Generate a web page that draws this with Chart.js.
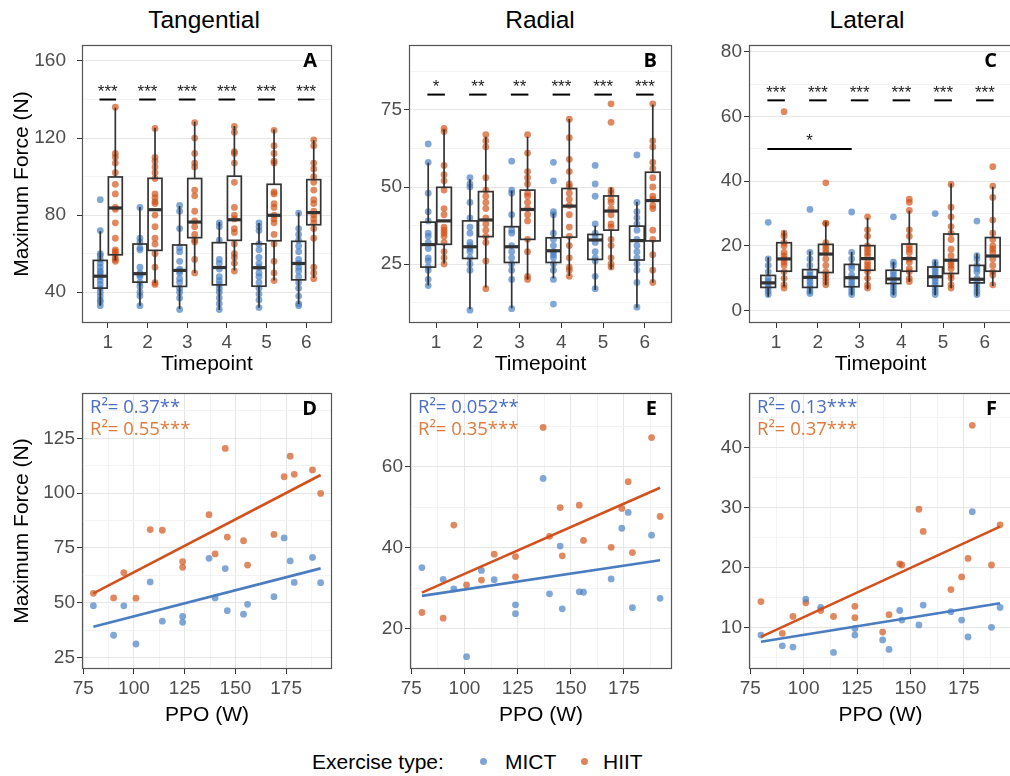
<!DOCTYPE html>
<html>
<head>
<meta charset="utf-8">
<script src="https://cdn.jsdelivr.net/npm/chart.js@4.4.0/dist/chart.umd.min.js"></script>
<style>
html, body { margin: 0; padding: 0; overflow: hidden; background: #fff; }
body { width: 1010px; height: 776px; position: relative; font-family: "Liberation Sans", Arial, sans-serif; }
canvas { position: absolute; }
.title { position: absolute; top: 8px; font-size: 24.5px; line-height: 24px; color: #000; transform: translateX(-50%); white-space: nowrap; }
#legend { position: absolute; top: 751px; left: 0; width: 1010px; height: 21px; font-size: 21px; line-height: 21px; color: #000; }
#legend span { position: absolute; white-space: nowrap; }
#legend .dot { width: 7px; height: 7px; border-radius: 50%; top: 7px; }
</style>
</head>
<body>
<div class="title" style="left:204px">Tangential</div>
<div class="title" style="left:540px">Radial</div>
<div class="title" style="left:867px">Lateral</div>

<canvas id="cA" width="340" height="337" style="left:0;top:40px"></canvas>
<canvas id="cB" width="340" height="337" style="left:340px;top:40px"></canvas>
<canvas id="cC" width="345" height="337" style="left:680px;top:40px"></canvas>
<canvas id="cD" width="340" height="340" style="left:0;top:388px"></canvas>
<canvas id="cE" width="340" height="340" style="left:340px;top:388px"></canvas>
<canvas id="cF" width="345" height="340" style="left:680px;top:388px"></canvas>

<div id="legend">
  <span style="left:312px">Exercise type:</span>
  <span class="dot" style="left:480px;background:rgba(70,125,195,0.7)"></span>
  <span style="left:505px">MICT</span>
  <span class="dot" style="left:581px;background:rgba(210,80,20,0.7)"></span>
  <span style="left:603px">HIIT</span>
</div>

<script>
const timepoints = [1, 2, 3, 4, 5, 6];

// Maximum force per timepoint, one inner array per timepoint
const tangMict = [
  [88, 72, 60, 59, 57, 55, 53, 51, 50, 48, 46, 44, 42, 40, 38, 36, 35, 33],
  [84, 68, 66, 63, 62, 53, 50, 49, 48, 45, 43, 40, 38, 33],
  [85, 82, 73, 63, 61, 56, 52, 51, 50, 47, 45, 42, 40, 37, 31],
  [76, 74, 67, 57, 55, 52, 48, 46, 44, 42, 40, 37, 34, 31],
  [76, 74, 72, 65, 62, 58, 55, 53, 50, 48, 45, 42, 39, 36, 32],
  [81, 73, 70, 67, 64, 61, 57, 55, 53, 51, 48, 45, 42, 38, 34, 33]
];
const tangHiit = [
  [136, 112, 110, 107, 102, 96, 91, 84, 83, 76, 68, 62, 61, 60, 58, 57, 56],
  [125, 110, 108, 105, 102, 99, 91, 89, 87, 86, 80, 74, 68, 65, 60, 53, 45, 44],
  [128, 120, 112, 107, 105, 93, 90, 82, 77, 74, 70, 67, 66, 57, 50],
  [126, 123, 113, 112, 107, 97, 84, 80, 78, 73, 71, 65, 60, 58, 55, 51],
  [124, 116, 112, 108, 107, 92, 91, 86, 84, 80, 78, 76, 70, 65, 56, 50, 46],
  [119, 116, 107, 104, 100, 97, 93, 88, 86, 82, 80, 78, 76, 73, 68, 53, 50, 47]
];
const radMict = [
  [64, 58, 48, 42, 39, 35, 34, 32, 30, 27, 26, 24, 23, 20, 18],
  [53, 51, 50, 45, 40, 37, 35, 32, 31, 30, 29, 27, 25, 23, 10],
  [58.4, 49, 48, 41, 36, 35, 31, 29, 27, 25, 23, 20, 10.5],
  [58, 52, 42, 41, 35, 33, 31, 29, 28, 27, 25, 23, 20, 12],
  [57, 51, 47, 38, 35, 34, 32, 29, 27, 26, 21, 17],
  [60.4, 45, 42, 40, 38, 36, 33, 31, 29, 27, 25, 23, 19, 11]
];
const radHiit = [
  [69, 68, 57, 54, 52, 49, 43, 41, 37, 36, 35, 34, 32, 29, 27, 25],
  [67, 65, 63, 53, 49, 47, 45, 43, 40, 38, 36, 34, 32, 26, 17],
  [67, 61, 55, 53, 51, 48, 47, 45, 43, 41, 39, 33, 29, 21, 20],
  [72, 66, 59, 55, 51, 50, 48, 46, 44, 41, 37, 34, 31, 27, 24, 23, 21],
  [77, 71, 49, 48, 46, 45, 43, 41, 38, 37, 33, 31, 27, 25, 24],
  [77, 65, 63, 58, 56, 53, 50, 47, 46, 44, 43, 36, 33, 28, 23, 19]
];
const latMict = [
  [27.3, 16, 14, 12, 10, 9, 8, 7, 6, 5],
  [31.3, 18, 16, 14, 12, 11, 10, 9, 8, 7, 6, 5.3],
  [30.5, 18, 16, 14, 13, 11, 10, 9, 8, 7, 6, 5],
  [29, 15, 14, 12, 11, 10, 9, 8, 7, 6, 5],
  [30, 15, 14, 13, 12, 11, 10, 9, 8, 7, 6, 5],
  [27.7, 17, 16, 14, 13, 12, 10, 9, 8, 7, 6, 5]
];
const latHiit = [
  [61.5, 24, 23, 21, 20, 18, 17, 16, 15, 14, 12, 10, 8, 7],
  [39.5, 27, 27, 21, 20, 19, 18, 16, 14, 12, 11, 10, 9, 8],
  [29, 25, 23, 20, 19, 18, 17, 15, 14, 13, 12, 10, 8, 7],
  [34.5, 33.5, 31, 25, 23, 20, 19, 18, 16, 15, 13, 12, 10, 9],
  [39, 32, 29, 26, 24, 22, 19, 17, 15, 14, 13, 11, 10, 8, 7],
  [44.5, 38.5, 35, 28, 24, 22, 20, 19, 18, 16, 14, 12, 11, 8]
];

// box summaries: [lower whisker, q1, median, q3, upper whisker]
const tangMictBox = [[33, 42.1, 48.3, 56.5, 71.6], [33, 45.2, 49.6, 65, 84.2], [31.3, 43, 51.3, 64.5, 84.7],
  [30.8, 43.8, 52.8, 65.7, 76.4], [31.9, 43.1, 52.7, 65.1, 75.9], [33.9, 46.4, 54.9, 66.4, 81.4]];
const tangHiitBox = [[56.5, 59.4, 83.7, 99.8, 135.7], [44.7, 61.7, 82.8, 99.1, 125.3], [49.9, 68.3, 76.4, 99, 128.4],
  [51.3, 66.9, 77.6, 100.2, 126.2], [46, 66.7, 79.9, 96, 124.5], [47.3, 75, 81.3, 98.4, 118.9]];
const radMictBox = [[18, 24, 31.3, 38.6, 57.9], [10.3, 26.8, 30.6, 39, 52.5], [10.6, 25.5, 30.6, 37.1, 48.8],
  [20.3, 25.5, 29.3, 33.5, 41.4], [16.6, 26.5, 32.8, 34.6, 37.4], [10.8, 26.3, 32.6, 37.3, 45.2]];
const radHiitBox = [[25.2, 31.4, 39, 49.9, 68.7], [17.4, 33.9, 39.3, 48.5, 66.3], [20, 33, 42.7, 49, 66.3],
  [21.1, 33.7, 43.8, 49.5, 72.1], [23.3, 36, 42.2, 47.1, 49.8], [18.9, 32.5, 45.6, 54.8, 76.8]];
const latMictBox = [[4.3, 7.2, 8.6, 10.9, 16.5], [5.3, 7.2, 10.3, 12.7, 18.4], [4.8, 7.4, 10.2, 14.3, 18.1],
  [4.8, 8.4, 9.8, 12.5, 15.1], [4.8, 7.6, 10.5, 13.5, 15.6], [4.5, 8.6, 9.7, 14, 17.7]];
const latHiitBox = [[7.4, 12.2, 16, 21, 24.7], [7.9, 11.8, 17.5, 20.5, 27.5], [6.6, 12.5, 16.1, 20.1, 28.7],
  [8.9, 12.2, 16.1, 20.6, 30.9], [6.9, 11.5, 15.6, 23.7, 39.3], [7.6, 12.2, 16.9, 22.6, 38.3]];

// significance between groups at each timepoint
const tangSig = ['***', '***', '***', '***', '***', '***'];
const radSig = ['*', '**', '**', '***', '***', '***'];
const latSig = ['***', '***', '***', '***', '***', '***'];
const latBracket = { from: 0.79, to: 2.81, label: '*' };

// peak power output vs maximum force
const ppo = [80, 90, 95, 101, 108, 114, 124, 124, 137, 140, 145, 146, 154, 156, 169, 174, 177, 179, 188, 192];
const peakTangMict = [48.7, 35.2, 48.6, 31.2, 59.5, 41.6, 43.8, 41.1, 70.3, 52.2, 65.6, 46.4, 44.8, 49.3, 52.8, 79.6, 69.1, 59.3, 70.7, 59.2];
const peakTangHiit = [54.3, 52.2, 63.8, 52.1, 83.4, 83.1, 68.8, 66.2, 90.2, 72.3, 120.4, 80, 78.3, 67.2, 81.2, 107.5, 116.9, 108.6, 110.6, 99.9];
const peakRadMict = [35.1, 32.2, 29.8, 13.1, 34.4, 32.1, 25.9, 23.7, 57.1, 28.6, 40.4, 24.9, 29.1, 29, 32.3, 44.8, 48.7, 25.2, 43.1, 27.5];
const peakRadHiit = [24, 22.6, 45.6, 30.8, 32, 38.4, 37.8, 32.8, 69.7, 42.8, 49.9, 38, 50.5, 41.8, 40.1, 49.7, 56.3, 38.8, 67.2, 47.7];
const peakLatMict = [8.7, 6.9, 6.7, 14.7, 13.3, 5.8, 9.8, 8.7, 7.9, 6.3, 12.8, 11.2, 10.4, 13.7, 12.6, 11.2, 8.4, 29.3, 10, 13.3];
const peakLatHiit = [14.3, 9, 11.8, 14.1, 12.8, 11.8, 13.5, 11.6, 9.2, 12.1, 20.6, 20.4, 29.7, 26, 16.3, 18.4, 21.5, 43.7, 20.4, 27.1];

// fitted lines, value at the first and last PPO
const fitX = [80, 192];
const tangFitMict = [39.1, 65.7], tangFitHiit = [54.3, 108.3];
const radFitMict = [28.1, 36.9], radFitHiit = [28.9, 54.8];
const latFitMict = [7.6, 14.0], latFitHiit = [8.4, 26.8];

const rsqTang = ['0.37**', '0.55***'];
const rsqRad = ['0.052**', '0.35***'];
const rsqLat = ['0.13***', '0.37***'];

// axis ticks (major ones get labels)
const tangTicks = [40, 60, 80, 100, 120, 140, 160], tangMajor = [40, 80, 120, 160];
const radTicks = [12.5, 25, 37.5, 50, 62.5, 75, 87.5], radMajor = [25, 50, 75];
const latTicks = [0, 10, 20, 30, 40, 50, 60, 70, 80], latMajor = [0, 20, 40, 60, 80];
const ppoTicks = [75, 87.5, 100, 112.5, 125, 137.5, 150, 162.5, 175, 187.5], ppoMajor = [75, 100, 125, 150, 175];
const peakTangTicks = [25, 37.5, 50, 62.5, 75, 87.5, 100, 112.5, 125, 137.5], peakTangMajor = [25, 50, 75, 100, 125];
const peakRadTicks = [20, 30, 40, 50, 60, 70], peakRadMajor = [20, 40, 60];
const peakLatTicks = [5, 10, 15, 20, 25, 30, 35, 40, 45], peakLatMajor = [10, 20, 30, 40];

const mictFill = 'rgba(70,125,195,0.68)';
const hiitFill = 'rgba(210,80,20,0.68)';
const mictLine = '#4a7cc0';
const hiitLine = '#d2511d';
const dodge = 0.19, boxHalf = 0.175;
const FONT = '"Liberation Sans", Arial, sans-serif';

const panelDecor = {
  id: 'panelDecor',
  afterDatasetsDraw(chart, args, o) {
    const { ctx, scales: { x, y } } = chart;
    ctx.save();
    (o.boxes || []).forEach(g => {
      g.stats.forEach((s, i) => {
        const c = timepoints[i] + g.shift;
        const l = x.getPixelForValue(c - boxHalf), r = x.getPixelForValue(c + boxHalf), m = x.getPixelForValue(c);
        const [lo, q1, med, q3, hi] = s.map(v => y.getPixelForValue(v));
        ctx.strokeStyle = '#333';
        ctx.lineWidth = 1.7;
        ctx.beginPath();
        ctx.moveTo(m, q3); ctx.lineTo(m, hi);
        ctx.moveTo(m, q1); ctx.lineTo(m, lo);
        ctx.stroke();
        ctx.strokeRect(l, q3, r - l, q1 - q3);
        ctx.lineWidth = 3.2;
        ctx.beginPath();
        ctx.moveTo(l, med); ctx.lineTo(r, med);
        ctx.stroke();
      });
    });
    const bar = (x0, x1, yv, label) => {
      const yp = y.getPixelForValue(yv);
      ctx.strokeStyle = '#000';
      ctx.lineWidth = 2;
      ctx.beginPath();
      ctx.moveTo(x.getPixelForValue(x0), yp);
      ctx.lineTo(x.getPixelForValue(x1), yp);
      ctx.stroke();
      ctx.fillStyle = '#222';
      ctx.font = '17px ' + FONT;
      ctx.textAlign = 'center';
      ctx.textBaseline = 'alphabetic';
      ctx.fillText(label, x.getPixelForValue((x0 + x1) / 2), yp - 2.5);
    };
    if (o.sig) o.sig.labels.forEach((lab, i) => bar(timepoints[i] - 0.21, timepoints[i] + 0.21, o.sig.at, lab));
    if (o.bracket) bar(o.bracket.from, o.bracket.to, o.bracket.at, o.bracket.label);
    ctx.restore();
  },
  afterDraw(chart, args, o) {
    const { ctx, chartArea: a } = chart;
    ctx.save();
    ctx.strokeStyle = '#555';
    ctx.lineWidth = 1.2;
    ctx.strokeRect(a.left + 0.5, a.top + 0.5, a.right - a.left - 1, a.bottom - a.top - 1);
    ctx.fillStyle = '#000';
    ctx.font = 'bold 20px "Open Sans", ' + FONT;
    ctx.textAlign = 'right';
    ctx.textBaseline = 'middle';
    ctx.fillText(o.letter, a.right - 15, a.top + 16);
    if (o.rsq) {
      ctx.font = '18.5px "Open Sans", ' + FONT;
      ctx.textAlign = 'left';
      ctx.fillStyle = '#4a6ec4';
      ctx.fillText('R\u00b2= ' + o.rsq[0], a.left + 8, a.top + 15);
      ctx.fillStyle = '#e07a3c';
      ctx.fillText('R\u00b2= ' + o.rsq[1], a.left + 8, a.top + 37);
    }
    ctx.restore();
  }
};

function tickAxis(ticks, major, extra) {
  return Object.assign({
    type: 'linear',
    afterBuildTicks: s => { s.ticks = ticks.map(v => ({ value: v })); },
    border: { display: false },
    grid: {
      color: c => major.includes(c.tick.value) ? '#e6e6e6' : '#f3f3f3',
      tickColor: c => major.includes(c.tick.value) ? '#333' : 'rgba(0,0,0,0)',
      tickLength: 5,
      lineWidth: 1
    },
    ticks: {
      autoSkip: false, maxRotation: 0,
      color: '#4d4d4d',
      font: { family: FONT, size: 19 },
      callback: v => major.includes(v) ? v : ''
    }
  }, extra);
}

function axisTitle(text, pad) {
  return { display: true, text: text, color: '#000', font: { family: FONT, size: 21 }, padding: pad };
}

// fixed axis sizes, and no extra room for labels at the axis ends
function fixY(width) {
  return s => { s.width = width; s.paddingTop = 0; s.paddingBottom = 0; };
}
function fixX(height) {
  return s => { s.height = height; s.paddingLeft = 0; s.paddingRight = 0; };
}

function boxPanel(id, o) {
  const pts = (groups, shift) => groups.flatMap((vals, i) => vals.map(v => ({ x: timepoints[i] + shift, y: v })));
  const y = tickAxis(o.ticks, o.major, { min: o.ymin, max: o.ymax, afterFit: fixY(o.yWidth) });
  y.ticks.padding = o.yPad;
  if (o.yTitle) y.title = axisTitle(o.yTitle, { top: 10, bottom: 0 });
  const x = tickAxis(timepoints, timepoints, { min: 0.35, max: 6.65, afterFit: fixX(54) });
  x.grid.drawOnChartArea = false;
  x.ticks.padding = 3;
  x.title = axisTitle('Timepoint', { top: 0, bottom: 0 });
  return new Chart(document.getElementById(id), {
    type: 'scatter',
    data: {
      datasets: [
        { data: pts(o.mict, -dodge), backgroundColor: mictFill, borderWidth: 0, pointRadius: 3.4 },
        { data: pts(o.hiit, dodge), backgroundColor: hiitFill, borderWidth: 0, pointRadius: 3.4 }
      ]
    },
    options: {
      responsive: false, animation: false,
      layout: { padding: { top: 5, right: o.padRight, left: 0, bottom: 0 } },
      plugins: {
        legend: { display: false }, tooltip: { enabled: false },
        panelDecor: {
          letter: o.letter,
          boxes: [{ stats: o.mictBox, shift: -dodge }, { stats: o.hiitBox, shift: dodge }],
          sig: { labels: o.sig, at: o.sigAt },
          bracket: o.bracket
        }
      },
      scales: { x: x, y: y }
    },
    plugins: [panelDecor]
  });
}

function scatterPanel(id, o) {
  const pts = vals => ppo.map((p, i) => ({ x: p, y: vals[i] }));
  const line = f => fitX.map((p, i) => ({ x: p, y: f[i] }));
  const y = tickAxis(o.ticks, o.major, { min: o.ymin, max: o.ymax, afterFit: fixY(o.yWidth) });
  y.ticks.padding = 2;
  if (o.yTitle) y.title = axisTitle(o.yTitle, { top: 10, bottom: 0 });
  const x = tickAxis(ppoTicks, ppoMajor, { min: 74.4, max: 197.6, afterFit: fixX(59) });
  x.ticks.padding = 3;
  x.title = axisTitle('PPO (W)', { top: 0, bottom: 0 });
  return new Chart(document.getElementById(id), {
    type: 'scatter',
    data: {
      datasets: [
        { data: line(o.fitMict), showLine: true, borderColor: mictLine, borderWidth: 2.6, pointRadius: 0, order: 0 },
        { data: line(o.fitHiit), showLine: true, borderColor: hiitLine, borderWidth: 2.6, pointRadius: 0, order: 0 },
        { data: pts(o.mict), backgroundColor: mictFill, borderWidth: 0, pointRadius: 3.4, order: 1 },
        { data: pts(o.hiit), backgroundColor: hiitFill, borderWidth: 0, pointRadius: 3.4, order: 1 }
      ]
    },
    options: {
      responsive: false, animation: false,
      layout: { padding: { top: 5, right: o.padRight, left: 0, bottom: 0 } },
      plugins: {
        legend: { display: false }, tooltip: { enabled: false },
        panelDecor: { letter: o.letter, rsq: o.rsq }
      },
      scales: { x: x, y: y }
    },
    plugins: [panelDecor]
  });
}

boxPanel('cA', { letter: 'A', mict: tangMict, hiit: tangHiit, mictBox: tangMictBox, hiitBox: tangHiitBox,
  sig: tangSig, sigAt: 140, ticks: tangTicks, major: tangMajor, ymin: 24, ymax: 168.3,
  yWidth: 82, yPad: 11, padRight: 8, yTitle: 'Maximum Force (N)' });
boxPanel('cB', { letter: 'B', mict: radMict, hiit: radHiit, mictBox: radMictBox, hiitBox: radHiitBox,
  sig: radSig, sigAt: 80, ticks: radTicks, major: radMajor, ymin: 5.85, ymax: 96.1,
  yWidth: 69, yPad: 2, padRight: 8 });
boxPanel('cC', { letter: 'C', mict: latMict, hiit: latHiit, mictBox: latMictBox, hiitBox: latHiitBox,
  sig: latSig, sigAt: 65, bracket: Object.assign({ at: 50 }, latBracket),
  ticks: latTicks, major: latMajor, ymin: -3.8, ymax: 82.1,
  yWidth: 69, yPad: 2, padRight: 13 });

scatterPanel('cD', { letter: 'D', mict: peakTangMict, hiit: peakTangHiit, fitMict: tangFitMict, fitHiit: tangFitHiit,
  rsq: rsqTang, ticks: peakTangTicks, major: peakTangMajor, ymin: 19.8, ymax: 145.7,
  yWidth: 82, padRight: 8, yTitle: 'Maximum Force (N)' });
scatterPanel('cE', { letter: 'E', mict: peakRadMict, hiit: peakRadHiit, fitMict: radFitMict, fitHiit: radFitHiit,
  rsq: rsqRad, ticks: peakRadTicks, major: peakRadMajor, ymin: 10.05, ymax: 78.2,
  yWidth: 70, padRight: 8 });
scatterPanel('cF', { letter: 'F', mict: peakLatMict, hiit: peakLatHiit, fitMict: latFitMict, fitHiit: latFitHiit,
  rsq: rsqLat, ticks: peakLatTicks, major: peakLatMajor, ymin: 3.04, ymax: 49.1,
  yWidth: 69, padRight: 13 });
</script>
</body>
</html>
